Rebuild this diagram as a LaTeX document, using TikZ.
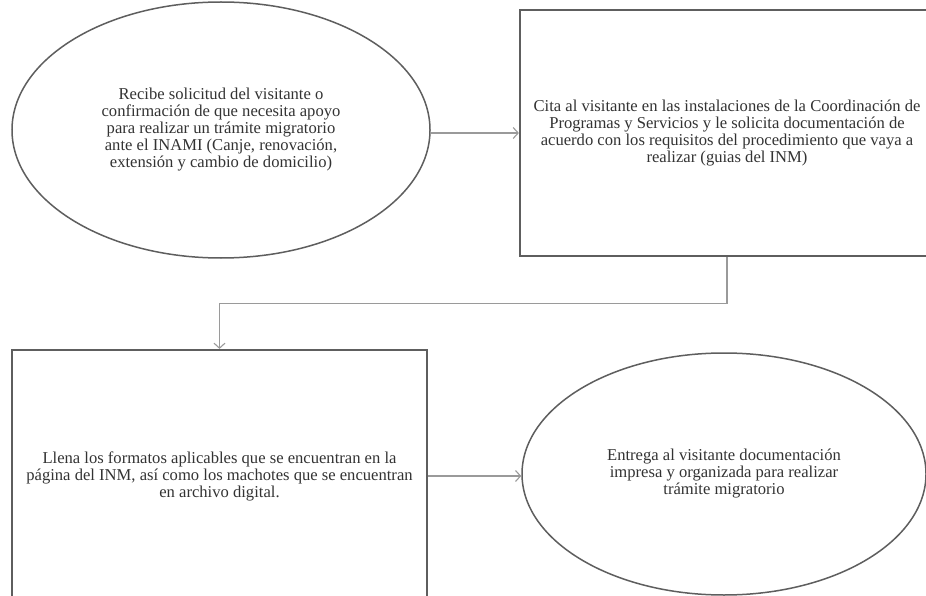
\documentclass[tikz,border=0pt]{standalone}
\usepackage{fontspec}
\setmainfont{Liberation Serif}
\usetikzlibrary{shapes.geometric,arrows.meta}
\definecolor{edgegray}{HTML}{5E5E5E}
\definecolor{conngray}{HTML}{9A9A9A}
\definecolor{txtgray}{HTML}{333333}
\tikzset{
  every node/.style={text=txtgray, align=center, inner sep=0pt, font=\fontsize{16.6}{17}\selectfont},
  ovalbox/.style={ellipse, draw=edgegray, line width=1.5pt},
  rectbox/.style={rectangle, draw=edgegray, line width=2.2pt},
  conn/.style={draw=conngray, line width=1.2pt, -{Straight Barb[length=5pt,width=11pt,line width=1.1pt]}},
}
\begin{document}
\begin{tikzpicture}[x=1pt,y=-1pt]
\useasboundingbox (0,0) rectangle (926,596);
\clip (0,0) rectangle (926,596);
\fill[white] (0,0) rectangle (926,596);
\node[ovalbox, minimum width=418pt, minimum height=256pt] (e1) at (221,130) {Recibe solicitud del visitante o\\confirmación de que necesita apoyo\\para realizar un trámite migratorio\\ante el INAMI (Canje, renovación,\\extensión y cambio de domicilio)};
\node[rectbox, minimum width=414pt, minimum height=246pt] (r1) at (727,133) {Cita al visitante en las instalaciones de la Coordinación de\\Programas y Servicios y le solicita documentación de\\acuerdo con los requisitos del procedimiento que vaya a\\realizar (guias del INM)};
\node[rectbox, minimum width=415pt, minimum height=252pt] (r2) at (219.5,476) {Llena los formatos aplicables que se encuentran en la\\página del INM, así como los machotes que se encuentran\\en archivo digital.};
\node[ovalbox, minimum width=404pt, minimum height=242pt] (e2) at (724,474) {Entrega al visitante documentación\\impresa y organizada para realizar\\trámite migratorio};
\draw[conn] (r1.west -| e1.east) -- (r1.west);
\draw[conn] (r1.south) -- ++(0,46) -| (r2.north);
\draw[conn] (r2.east) -- (r2.east -| e2.west);
\end{tikzpicture}
\end{document}
